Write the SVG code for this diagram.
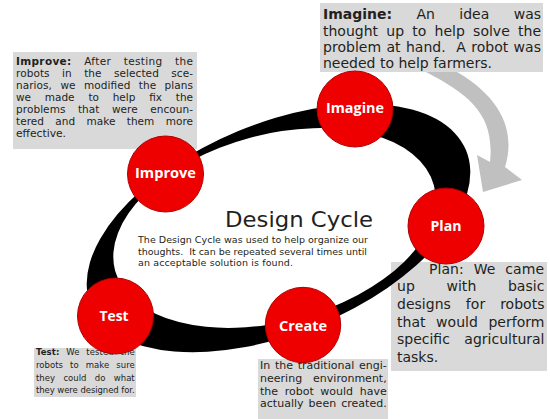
<svg xmlns="http://www.w3.org/2000/svg" width="550" height="419" viewBox="0 0 550 419">
<defs>
<style>
.box{fill:#d9d9d9}
.t{font-family:"DejaVu Sans",sans-serif;fill:#231f20}
.b{font-weight:bold}
.node circle{fill:#ee0000;stroke:#b00000;stroke-width:1}
.lbl{font-family:"Open Sans","DejaVu Sans",sans-serif;font-weight:bold;font-size:14.5px;fill:#ffffff;text-anchor:middle}
</style>
<mask id="ringMask" maskUnits="userSpaceOnUse" x="0" y="0" width="550" height="419">
<rect width="550" height="419" fill="#fff"/>
<ellipse cx="274.5" cy="228" rx="165" ry="93.5" transform="rotate(-15 274.5 228)" fill="#000"/>
</mask>
</defs>
<rect width="550" height="419" fill="#ffffff"/>

<g id="cycle-arrow">
<path d="M426,72 C470,95 495,115 490,162 L477,155 L483,192 L522,180 L505,167 C515,135 505,100 457,72 Z" fill="#c0c0c0"/>
</g>

<g id="box-imagine">
<rect class="box" x="320" y="3" width="223" height="69"/>
<text class="t" font-size="14" x="323" y="19" word-spacing="20" textLength="218" lengthAdjust="spacing"><tspan class="b">Imagine:</tspan> An idea was</text>
<text class="t" font-size="14" x="323" y="35.5" word-spacing="3.8" textLength="218" lengthAdjust="spacing">thought up to help solve the</text>
<text class="t" font-size="14" x="323" y="52" word-spacing="0.8" textLength="218" lengthAdjust="spacing">problem at hand.&#160; A robot was</text>
<text class="t" font-size="14" x="323" y="68">needed to help farmers.</text>
</g>

<g id="box-improve">
<rect class="box" x="13" y="52" width="184" height="97"/>
<text class="t" font-size="10.5" x="16" y="64.5" word-spacing="9" textLength="177" lengthAdjust="spacing"><tspan class="b">Improve:</tspan> After testing the</text>
<text class="t" font-size="10.5" x="16" y="76.5" word-spacing="9" textLength="177" lengthAdjust="spacing">robots in the selected sce-</text>
<text class="t" font-size="10.5" x="16" y="88.5" word-spacing="5" textLength="177" lengthAdjust="spacing">narios, we modified the plans</text>
<text class="t" font-size="10.5" x="16" y="100.5" word-spacing="10.5" textLength="177" lengthAdjust="spacing">we made to help fix the</text>
<text class="t" font-size="10.5" x="16" y="112.5" word-spacing="9" textLength="177" lengthAdjust="spacing">problems that were encoun-</text>
<text class="t" font-size="10.5" x="16" y="124.5" word-spacing="8" textLength="177" lengthAdjust="spacing">tered and make them more</text>
<text class="t" font-size="10.5" x="16" y="136.5" textLength="50" lengthAdjust="spacingAndGlyphs">effective.</text>
</g>

<g id="box-plan">
<rect class="box" x="391" y="262" width="156" height="109"/>
<text class="t" font-size="14" x="429" y="273.5" word-spacing="5.3" textLength="115" lengthAdjust="spacing">Plan: We came</text>
<text class="t" font-size="14" x="397" y="291" word-spacing="27" textLength="147.5" lengthAdjust="spacing">up with basic</text>
<text class="t" font-size="14" x="397" y="309" word-spacing="10.5" textLength="147.5" lengthAdjust="spacing">designs for robots</text>
<text class="t" font-size="14" x="397" y="326.5" word-spacing="6" textLength="147.5" lengthAdjust="spacing">that would perform</text>
<text class="t" font-size="14" x="397" y="344" word-spacing="10" textLength="147.5" lengthAdjust="spacing">specific agricultural</text>
<text class="t" font-size="14" x="397" y="362">tasks.</text>
</g>

<g id="box-test">
<rect class="box" x="34" y="348" width="102" height="49"/>
<text class="t" font-size="8.5" x="36" y="355" word-spacing="4" textLength="98.7" lengthAdjust="spacing"><tspan class="b">Test:</tspan> We tested the</text>
<text class="t" font-size="8.5" x="36" y="367.7" word-spacing="4.3" textLength="98.7" lengthAdjust="spacing">robots to make sure</text>
<text class="t" font-size="8.5" x="36" y="380.5" word-spacing="5.7" textLength="98.7" lengthAdjust="spacing">they could do what</text>
<text class="t" font-size="8.5" x="36" y="393.3" textLength="98.7" lengthAdjust="spacing">they were designed for.</text>
</g>

<g id="box-create">
<rect class="box" x="258" y="359" width="130" height="60"/>
<text class="t" font-size="11" x="260" y="368.5" word-spacing="1.2" textLength="126.7" lengthAdjust="spacing">In the traditional engi-</text>
<text class="t" font-size="11" x="260" y="381.5" word-spacing="7.4" textLength="126.7" lengthAdjust="spacing">neering environment,</text>
<text class="t" font-size="11" x="260" y="394.5" word-spacing="3" textLength="126.7" lengthAdjust="spacing">the robot would have</text>
<text class="t" font-size="11" x="260" y="407.3" word-spacing="1.5" textLength="126.7" lengthAdjust="spacing">actually been created.</text>
</g>

<g id="connectors">
<g mask="url(#ringMask)">
<ellipse cx="278.5" cy="228" rx="203" ry="105" transform="rotate(-22.5 278.5 228)" fill="#000000"/>
</g>
</g>

<g id="node-imagine" class="node">
<circle cx="355" cy="109" r="38"/>
<text class="lbl" x="355" y="113" textLength="58" lengthAdjust="spacingAndGlyphs">Imagine</text>
</g>
<g id="node-plan" class="node">
<circle cx="446" cy="226" r="38"/>
<text class="lbl" x="446" y="230.5" textLength="31" lengthAdjust="spacingAndGlyphs">Plan</text>
</g>
<g id="node-create" class="node">
<circle cx="303" cy="325" r="37.7"/>
<text class="lbl" x="303" y="330.5" textLength="48" lengthAdjust="spacingAndGlyphs">Create</text>
</g>
<g id="node-test" class="node">
<circle cx="115.5" cy="316" r="38"/>
<text class="lbl" x="114" y="320.5" textLength="29" lengthAdjust="spacingAndGlyphs">Test</text>
</g>
<g id="node-improve" class="node">
<circle cx="165.5" cy="174" r="38"/>
<text class="lbl" x="165.5" y="178" textLength="61" lengthAdjust="spacingAndGlyphs">Improve</text>
</g>

<g id="title">
<text class="t" font-size="22" x="225" y="227" textLength="148" lengthAdjust="spacingAndGlyphs">Design Cycle</text>
<text class="t" font-size="9.5" x="138" y="242.5" textLength="230" lengthAdjust="spacing">The Design Cycle was used to help organize our</text>
<text class="t" font-size="9.5" x="138" y="254.5" textLength="229" lengthAdjust="spacing">thoughts.&#160; It can be repeated several times until</text>
<text class="t" font-size="9.5" x="138" y="266" textLength="155" lengthAdjust="spacing">an acceptable solution is found.</text>
</g>
</svg>
